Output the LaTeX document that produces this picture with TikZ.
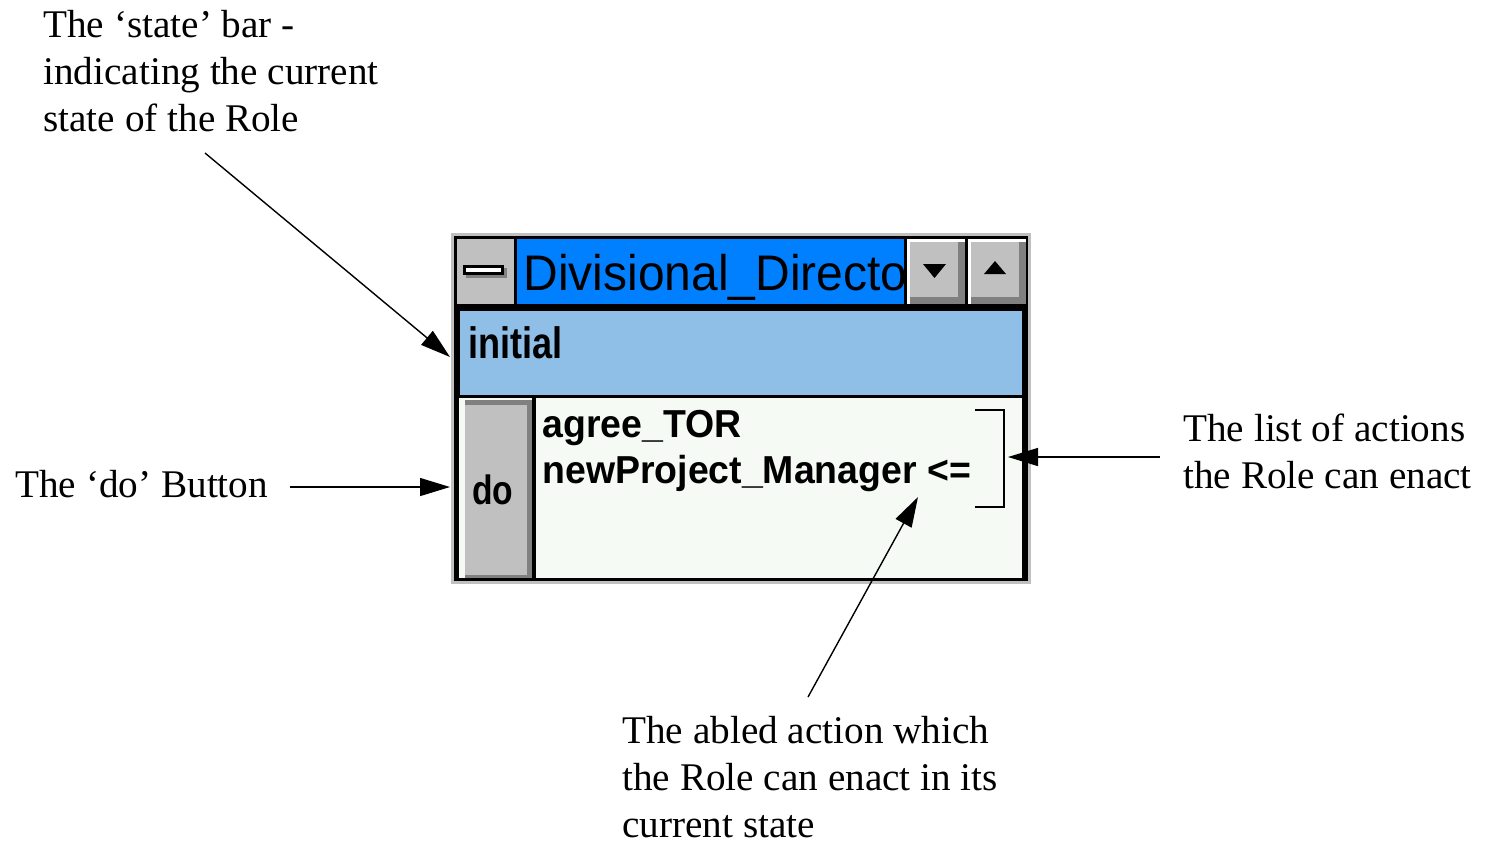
\documentclass[tikz,border=0pt]{standalone}
\usepackage{fontspec}
\setmainfont{Liberation Serif}
\newfontfamily\winfont[FakeStretch=0.96]{Liberation Sans}
\newfontfamily\winnarrow[FakeStretch=0.82]{Liberation Sans}
\usetikzlibrary{arrows.meta}
\definecolor{titleblue}{RGB}{0,128,255}
\definecolor{statebg}{RGB}{143,190,230}
\definecolor{listbg}{RGB}{245,250,245}
\definecolor{btngray}{RGB}{192,192,192}
\definecolor{btndark}{RGB}{128,128,128}

\begin{document}
\begin{tikzpicture}[x=0.5pt,y=-0.5pt,
    note/.style={inner sep=0pt,anchor=north west,align=left,font=\fontsize{19.6}{23.5}\selectfont},
    wintext/.style={inner sep=0pt,anchor=base west},
    pointer/.style={line width=0.7pt,-{Triangle[length=15pt,width=9pt]}}]
                \useasboundingbox (0,0) rectangle (1486,842);

                % window frame
                \fill [btngray] (451,233) rectangle (1031,584);
                \fill [black] (454,236) rectangle (1028,581);

                % title bar
                \fill [btngray] (457,239) rectangle (514,304);
                \fill [btndark] (466,268) rectangle (507,278);
                \fill [black] (463,265) rectangle (504,275);
                \fill [white] (466,268) rectangle (501,272);
                \fill [titleblue] (517,239) rectangle (904,304);
                \begin{scope}
                \clip (517,239) rectangle (904,304);
                \node[wintext,font=\winfont\fontsize{25}{25}\selectfont] (title) at(523,290) {Divisional\_Directo};
                \end{scope}
                \foreach \xa/\xb in {907/965,968/1026}{
                    \fill [white] (\xa,239) rectangle (\xb,304);
                    \fill [btndark] (\xa+3,242) rectangle (\xb,304);
                    \fill [btngray] (\xa+3,242) rectangle (\xb-7,297);
                }
                \fill (923,264)--(946,264)--(934.5,278)--cycle;
                \fill (984,274)--(1006,274)--(995,261)--cycle;

                % state bar
                \fill [statebg] (460,311) rectangle (1022,395);
                \node[wintext,font=\winnarrow\bfseries\fontsize{22}{22}\selectfont] (state) at(468,358) {initial};

                % list of actions and do button
                \fill [listbg] (459,398) rectangle (1022,578);
                \fill [btndark] (465,400) rectangle (532,578);
                \fill [btngray] (465,405) rectangle (527,575);
                \fill [black] (532,398) rectangle (536,578);
                \node[wintext,font=\winnarrow\bfseries\fontsize{20.5}{20.5}\selectfont] (dobtn) at(472,504) {do};
                \node[wintext,font=\winfont\bfseries\fontsize{19.5}{19.5}\selectfont] (act1) at(542,437) {agree\_TOR};
                \node[wintext,font=\winfont\bfseries\fontsize{19.5}{19.5}\selectfont] (act2) at(542,483) {newProject\_Manager <=};
                \draw [line width=1pt] (975,410)--(1004,410)--(1004,507)--(975,507);

                % notes
                \node[note] (statenote) at(43,10) {The ‘state’ bar -\\indicating the current\\state of the Role};
                \node[note] (donote) at(15,470) {The ‘do’ Button};
                \node[note] (listnote) at(1183,413) {The list of actions\\the Role can enact};
                \node[note] (ablednote) at(622,716) {The abled action which\\the Role can enact in its\\current state};

                \coordinate (stateFrom) at(205,153);
                \coordinate (stateTo) at(450,357);
                \coordinate (doFrom) at(290,487);
                \coordinate (doTo) at(450,487);
                \coordinate (listFrom) at(1160,457);
                \coordinate (listTo) at(1008,457);
                \coordinate (abledFrom) at(808,697);
                \coordinate (abledTo) at(918,497);

                \draw [pointer] (stateFrom)--(stateTo);
                \draw [pointer] (doFrom)--(doTo);
                \draw [pointer] (listFrom)--(listTo);
                \draw [pointer] (abledFrom)--(abledTo);
\end{tikzpicture}
\end{document}
